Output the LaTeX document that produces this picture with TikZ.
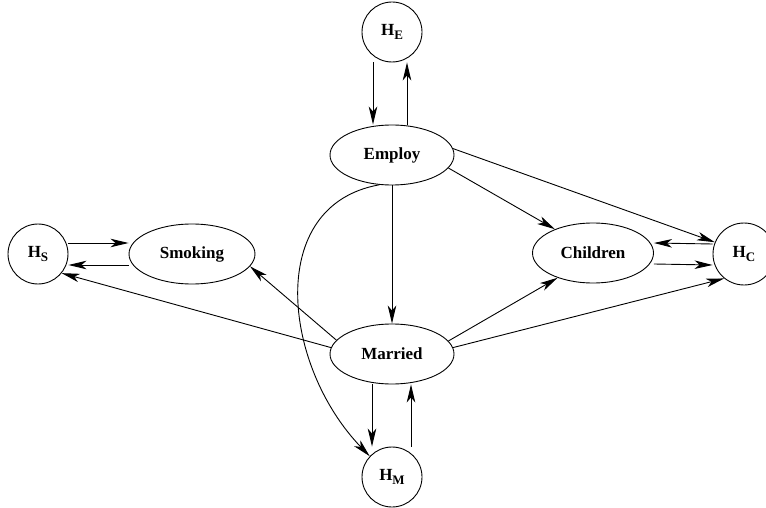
\documentclass[tikz,border=0pt]{standalone}
\usepackage{fontspec}
\setmainfont{Liberation Serif}
\usetikzlibrary{arrows.meta,shapes.geometric}
\newcommand{\Hsub}[1]{H\raisebox{-0.45ex}{\fontsize{13}{13}\selectfont #1}}
\begin{document}
\begin{tikzpicture}[x=1pt,y=-1pt,
  every node/.style={font=\fontsize{17}{20}\selectfont\bfseries},
  oval/.style={draw,ellipse,line width=0.9pt,minimum width=124pt,minimum height=60pt,inner sep=0pt},
  hnode/.style={draw,circle,line width=0.9pt,minimum size=60pt,inner sep=0pt},
  arr/.style={line width=0.9pt,-{Stealth[length=18pt,width=8.5pt,inset=5pt]}}]
\useasboundingbox (0,0) rectangle (766,508);
\node[hnode] (HE) at (392,32) {\Hsub{E}};
\node[oval] (Employ) at (392,155) {Employ};
\node[oval,minimum width=126pt] (Smoking) at (192,254) {Smoking};
\node[hnode] (HS) at (38,254) {\Hsub{S}};
\node[oval,minimum width=121pt] (Children) at (593,253) {Children};
\node[hnode,minimum size=62pt] (HC) at (744,254) {\Hsub{C}};
\node[oval] (Married) at (392,354) {Married};
\node[hnode] (HM) at (392,477) {\Hsub{M}};
% H_E <-> Employ
\draw[arr] ([xshift=-19pt]HE.south) -- ([xshift=-19pt]Employ.north);
\draw[arr] ([xshift=15pt]Employ.north) -- ([xshift=15pt]HE.south);
% Employ -> Married
\draw[arr] (Employ) -- (Married);
% Employ -> Children, H_C
\draw[arr] (Employ.-13) -- (Children.148);
\draw[arr] (Employ.6.5) -- (HC.158);
% Employ -> H_M curved
\draw[arr] (Employ.-113) .. controls (265,205) and (282,365) .. (HM.137);
% H_S <-> Smoking
\draw[arr] ([yshift=11pt]HS.east) -- ([yshift=11pt]Smoking.west);
\draw[arr] ([yshift=-11pt]Smoking.west) -- ([yshift=-11pt]HS.east);
% Married -> Smoking, H_S
\draw[arr] (Married.166.7) -- (Smoking.-12);
\draw[arr] (Married.174) -- (HS.-39);
% Married -> Children, H_C
\draw[arr] (Married.13) -- (Children.215);
\draw[arr] (Married.6) -- (HC.231);
% H_C <-> Children
\draw[arr] ([yshift=10pt]HC.west) -- ([yshift=10pt]Children.east);
\draw[arr] ([yshift=-11pt]Children.east) -- ([yshift=-11pt]HC.west);
% Married <-> H_M
\draw[arr] ([xshift=-20pt]Married.south) -- ([xshift=-20pt]HM.north);
\draw[arr] ([xshift=19pt]HM.north) -- ([xshift=19pt]Married.south);
\end{tikzpicture}
\end{document}
